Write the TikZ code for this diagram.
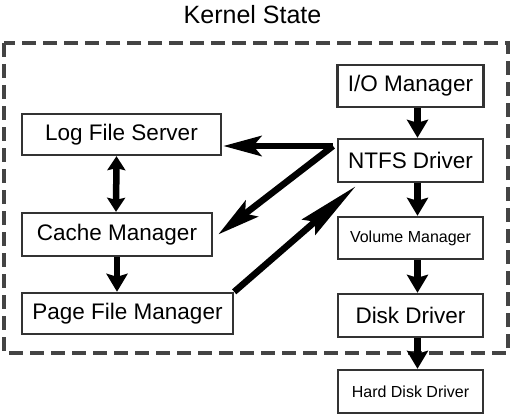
\documentclass[tikz,border=0pt]{standalone}
\usepackage{fontspec}
\setmainfont{Liberation Sans}
\usetikzlibrary{arrows.meta}
\definecolor{boxline}{HTML}{333333}
\definecolor{dashline}{HTML}{444444}
\tikzset{
  box/.style={draw=boxline, line width=2.4pt, inner sep=0pt, align=center,
    font=\fontsize{22.5}{24}\selectfont},
  smallbox/.style={box, font=\fontsize{16}{18}\selectfont},
  vflow/.style={line width=6.5pt, -{Stealth[length=18pt,width=21pt,inset=3pt]}},
  dflow/.style={line width=6.5pt, {Stealth[length=14pt,width=18pt,inset=2pt]}-{Stealth[length=14pt,width=18pt,inset=2pt]}},
  longflow/.style={line width=6.5pt, -{Stealth[length=#1,width=20pt,inset=8pt]}},
}
\begin{document}
\begin{tikzpicture}[x=1pt,y=-1pt]
\useasboundingbox (0,0) rectangle (513,417);
\node[anchor=base, font=\fontsize{25}{28}\selectfont] (title) at (252.5,24) {Kernel State};
\draw[dashline, line width=3.5pt, dash pattern=on 14pt off 7pt] (4,43) rectangle (508,353);

\node[box, minimum width=146pt, minimum height=42pt] (io) at (410.5,86) {I/O Manager};
\node[box, minimum width=199pt, minimum height=41pt] (log) at (121.5,134.5) {Log File Server};
\node[box, minimum width=145pt, minimum height=43pt] (ntfs) at (410.5,160.5) {NTFS Driver};
\node[box, minimum width=190pt, minimum height=43pt] (cache) at (117,234.5) {Cache Manager};
\node[smallbox, minimum width=145pt, minimum height=42pt] (vol) at (410.5,238) {Volume Manager};
\node[box, minimum width=211pt, minimum height=41pt] (page) at (127.5,313.5) {Page File Manager};
\node[box, minimum width=145pt, minimum height=43pt] (disk) at (410.5,315.5) {Disk Driver};
\node[smallbox, minimum width=145pt, minimum height=43pt] (hdd) at (410.5,391.5) {Hard Disk Driver};

\coordinate (hub) at (333,146);

\draw[vflow] ([xshift=7pt]io.south) -- ([xshift=7pt]ntfs.north);
\draw[vflow] ([xshift=7pt]ntfs.south) -- ([xshift=7pt]vol.north);
\draw[vflow] ([xshift=7pt]vol.south) -- ([xshift=7pt]disk.north);
\draw[vflow] ([xshift=7pt]disk.south) -- ([xshift=7pt]hdd.north);

\draw[dflow] ([xshift=-5pt]log.south) -- ([xshift=-1pt]cache.north);
\draw[vflow] (cache.south) -- ([xshift=-10.5pt]page.north);

\draw[longflow=38pt] (hub) -- ([xshift=1pt]log.east |- hub);
\draw[longflow=42pt] (hub) -- ([xshift=5pt]cache.east);
\draw[longflow=62pt] (page.north east) -- ([xshift=19pt,yshift=-3pt]ntfs.south west);
\end{tikzpicture}
\end{document}
